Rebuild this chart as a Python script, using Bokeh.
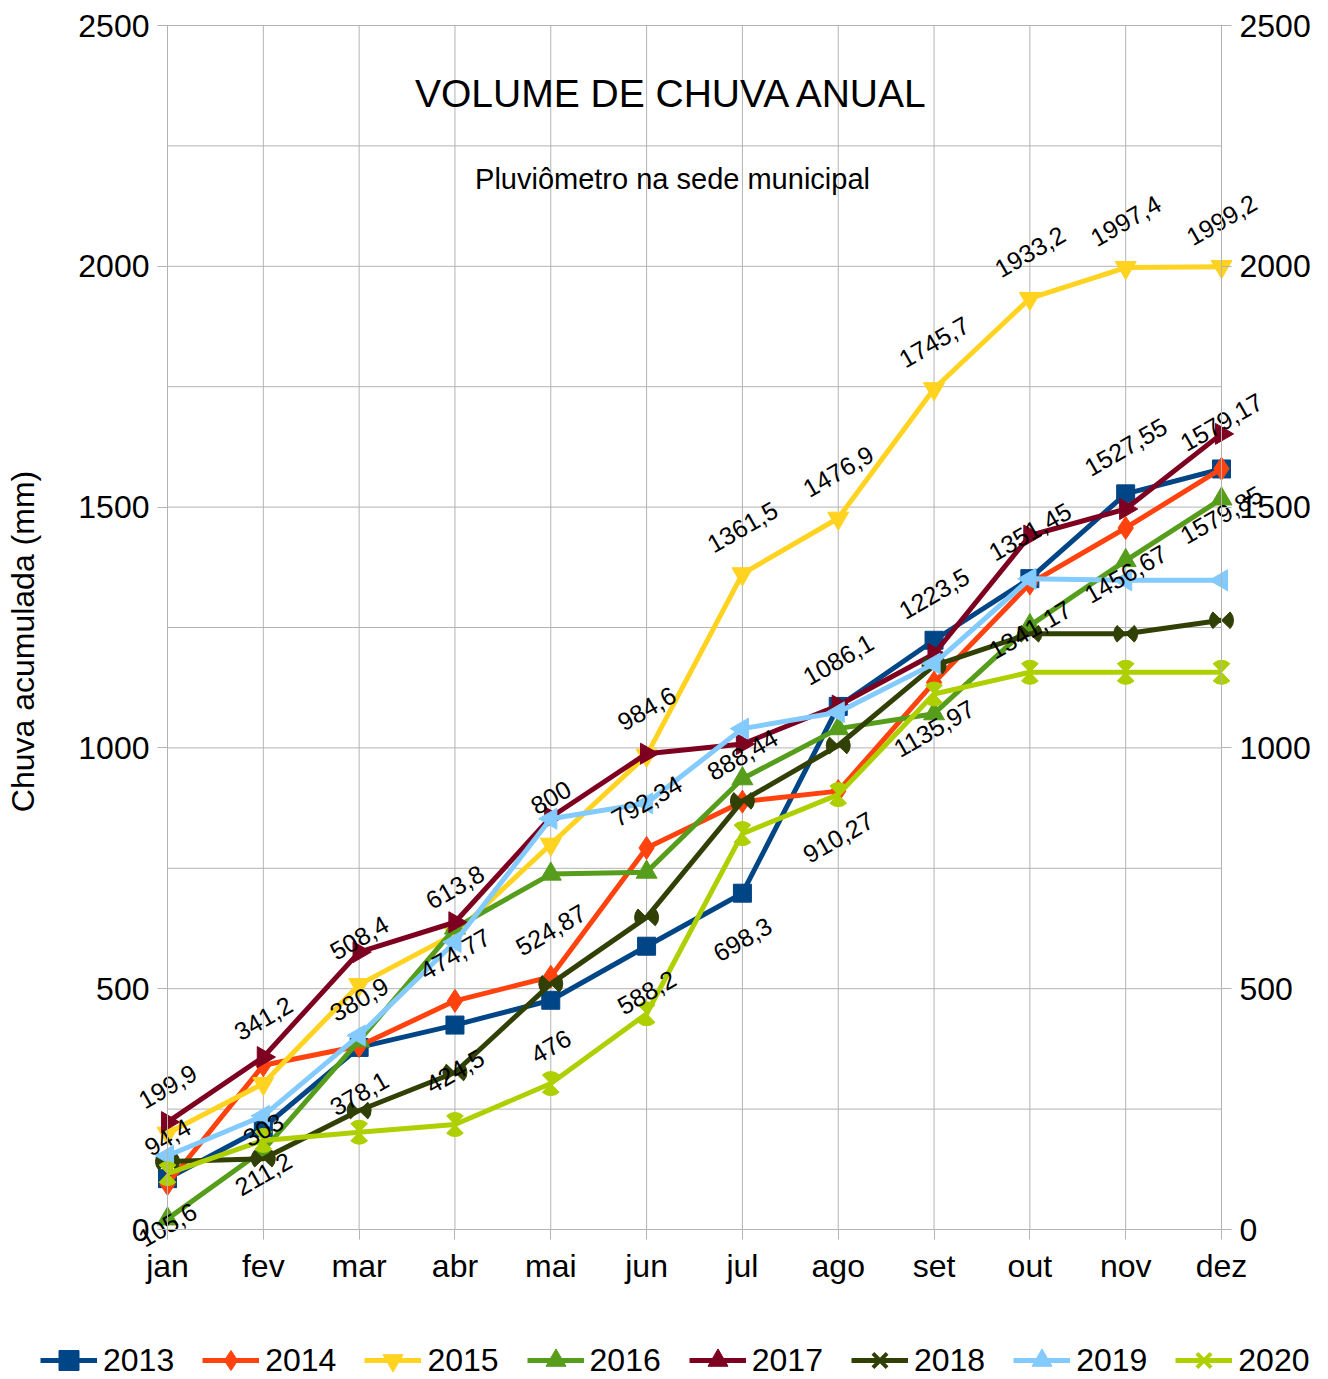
import math
from bokeh.plotting import figure
from bokeh.models import FixedTicker, LinearAxis, Legend, LegendItem, Label, ColumnDataSource
from bokeh.core.properties import value
from bokeh.embed import file_html
from bokeh.resources import INLINE

# ---------------- data ----------------
months = ["jan", "fev", "mar", "abr", "mai", "jun", "jul", "ago", "set", "out", "nov", "dez"]
years = ["2013", "2014", "2015", "2016", "2017", "2018", "2019", "2020"]

s2013 = [105.6, 211.2, 378.1, 424.5, 476, 588.2, 698.3, 1086.1, 1223.5, 1351.45, 1527.55, 1579.17]
s2014 = [94.4, 341.2, 380.9, 474.77, 524.87, 792.34, 888.44, 910.27, 1135.97, 1341.17, 1456.67, 1579.85]
s2015 = [199.9, 303, 508.4, 613.8, 800, 984.6, 1361.5, 1476.9, 1745.7, 1933.2, 1997.4, 1999.2]
s2016 = [22, 165, 392, 626, 738, 742, 936, 1040, 1071, 1254, 1389, 1517]
s2017 = [223, 358, 576, 638, 856, 988, 1008, 1088, 1195, 1441, 1496, 1652]
s2018 = [141, 147, 247, 326, 510, 648, 890, 1005, 1171, 1237, 1237, 1265]
s2019 = [153, 236, 403, 597, 853, 885, 1040, 1074, 1175, 1351, 1348, 1348]
s2020 = [116, 185, 202, 218, 303, 448, 822, 903, 1112, 1157, 1157, 1157]

# label placement (style) for the labelled series
pos2013 = ["below"] * 7 + ["above"] * 5
pos2014 = ["above"] * 7 + ["below"] * 5
pos2015 = ["above", "below"] + ["above"] * 10

y_ticks = [0, 500, 1000, 1500, 2000, 2500]
grid_y = list(range(0, 2501, 250))

FONT = "Liberation Sans"
colors = ["#004586", "#ff420e", "#ffd320", "#579d1c", "#7e0021", "#314004", "#83caff", "#aecf00"]
series = [s2013, s2014, s2015, s2016, s2017, s2018, s2019, s2020]
x = list(range(len(months)))
XMAX = len(months) - 1
YMAX = 2500

# ---------------- layout geometry (pixels) ----------------
W, H = 1328, 1379
PL, PR, PT, PB = 167, 1221, 25, 1229          # gridded plot area inside the canvas
kx = (PR - PL) / XMAX
ky = (PB - PT) / YMAX
x_range = (-PL / kx, XMAX + (W - PR) / kx)
y_range = (-(H - PB) / ky, YMAX + PT / ky)

p = figure(width=W, height=H, output_backend="svg", toolbar_location=None,
           x_range=x_range, y_range=y_range, min_border=0,
           min_border_left=0, min_border_right=0, min_border_top=0, min_border_bottom=0,
           x_axis_location=None, y_axis_location=None)
p.outline_line_color = None
p.background_fill_color = "white"
p.grid.visible = False

GRID = "#b3b3b3"
# grid lines restricted to the gridded area
p.segment(x0=x, y0=[0] * len(x), x1=x, y1=[YMAX] * len(x), line_color=GRID, line_width=1)
p.segment(x0=[0] * len(grid_y), y0=grid_y, x1=[XMAX] * len(grid_y), y1=grid_y, line_color=GRID, line_width=1)

xaxis = LinearAxis(fixed_location=0, bounds=(0, XMAX), ticker=FixedTicker(ticks=x),
                   major_label_overrides={i: m for i, m in enumerate(months)})
yaxis = LinearAxis(fixed_location=0, bounds=(0, YMAX), ticker=FixedTicker(ticks=y_ticks))
raxis = LinearAxis(fixed_location=XMAX, bounds=(0, YMAX), ticker=FixedTicker(ticks=y_ticks))
p.add_layout(xaxis, "below")
p.add_layout(yaxis, "left")
p.add_layout(raxis, "right")

for ax in (xaxis, yaxis, raxis):
    ax.axis_line_color = GRID
    ax.major_tick_line_color = GRID
    ax.major_tick_out = 10
    ax.major_tick_in = 0
    ax.minor_tick_line_color = None
    ax.major_label_text_font = FONT
    ax.major_label_text_font_size = "32px"
    ax.major_label_text_color = "black"
    ax.major_label_standoff = 8

# y axis title
p.add_layout(Label(x=(22 - PL) / kx, y=(PB - 641) / ky, text="Chuva acumulada (mm)", angle=math.pi / 2,
                   text_align="center", text_baseline="middle", text_font=FONT,
                   text_font_size="32px", text_color="black"))

# ---------------- series ----------------
LW = 5
items = []
for yr, col, ys in zip(years, colors, series):
    ln = p.line(x, ys, line_color=col, line_width=LW)
    rends = [ln]
    if yr == "2013":
        rends.append(p.scatter(x, ys, marker="square", size=18, color=col))
    elif yr == "2014":
        rends.append(p.scatter(x, ys, marker="diamond", size=23, color=col))
    elif yr == "2015":
        rends.append(p.scatter(x, ys, marker="inverted_triangle", size=21, color=col))
    elif yr == "2016":
        rends.append(p.scatter(x, ys, marker="triangle", size=21, color=col))
    elif yr == "2017":
        rends.append(p.scatter(x, ys, marker="triangle", size=21, angle=-math.pi / 2, color=col))
    elif yr == "2019":
        rends.append(p.scatter(x, ys, marker="triangle", size=21, angle=math.pi / 2, color=col))
    elif yr in ("2018", "2020"):
        # legend sample (zero size in the plot, legend draws its own size)
        rends.append(p.scatter(x, ys, marker="x", size=0, line_width=4, line_color=col))
        base = 0.0 if yr == "2018" else math.pi / 2
        a = math.radians(44)
        for c in (base, base + math.pi):
            p.wedge(x, ys, radius=12, radius_units="screen", start_angle=c - a, end_angle=c + a,
                    fill_color=col, line_color=col)
    items.append(LegendItem(label=yr, renderers=rends))

# ---------------- data labels ----------------
def fmt(v):
    return f"{v:g}".replace(".", ",")

lx, ly, lt, loff = [], [], [], []
for ys, pos in [(s2013, pos2013), (s2014, pos2014), (s2015, pos2015)]:
    for i, (v, ps) in enumerate(zip(ys, pos)):
        lx.append(i)
        ly.append(v)
        lt.append(fmt(v))
        loff.append(-47 if ps == "above" else 46)
lsrc = ColumnDataSource(dict(x=lx, y=ly, text=lt, off=loff))
p.text(x="x", y="y", text="text", y_offset="off", source=lsrc, angle=math.radians(30),
       text_align="center", text_baseline="middle", text_font=value(FONT),
       text_font_size="25px", text_color="black")

# ---------------- titles (inside plot area) ----------------
p.add_layout(Label(x=(672 - PL) / kx, y=YMAX - (93 - PT) / ky, text="VOLUME DE CHUVA ANUAL",
                   text_align="center", text_baseline="middle", text_font=FONT,
                   text_font_size="39px", text_color="black"))
p.add_layout(Label(x=(672 - PL) / kx, y=YMAX - (178 - PT) / ky, text="Pluviômetro na sede municipal",
                   text_align="center", text_baseline="middle", text_font=FONT,
                   text_font_size="29px", text_color="black"))

# ---------------- legend ----------------
legend = Legend(items=items, orientation="horizontal", location=(40, -6),
                glyph_width=57, glyph_height=50, label_height=50, label_standoff=6, spacing=28,
                padding=0, margin=0,
                label_text_font=FONT, label_text_font_size="32px", label_text_color="black",
                border_line_color=None, background_fill_alpha=0)
p.add_layout(legend, "center")

open("out.html", "w").write(file_html(p, INLINE))
